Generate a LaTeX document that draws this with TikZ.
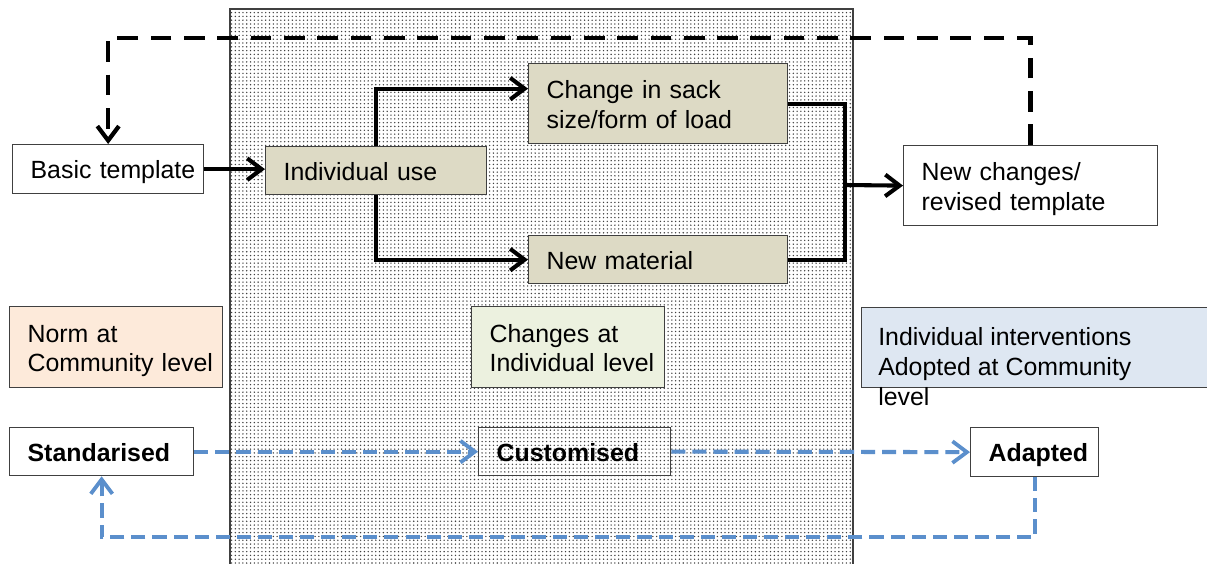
\documentclass[tikz,border=0pt]{standalone}
\usepackage{fontspec}
\setmainfont{Liberation Sans}
\usepackage{tikz}
\usetikzlibrary{arrows.meta,patterns.meta}
\usepackage{xcolor}
\definecolor{beige}{RGB}{221,218,197}
\definecolor{peach}{RGB}{253,234,218}
\definecolor{palegreen}{RGB}{236,241,223}
\definecolor{paleblue}{RGB}{222,231,242}
\definecolor{flowblue}{RGB}{91,143,204}

\begin{document}
\begin{tikzpicture}[font=\fontsize{17.7}{21.3}\selectfont,
  box/.style={draw=black!75,line width=0.9pt,anchor=north west,align=left,inner xsep=0.1cm,inner ysep=0pt,
    text height=19pt,text depth=5pt,execute at begin node={\leftskip=0.35cm}},
  twolines/.style={text depth=26.3pt},
  flow/.style={line width=2.9pt},
  tip/.style={-{Straight Barb[length=3.6mm,width=5.4mm,line width=2.9pt]}},
  loopback/.style={line width=3.2pt,dash pattern=on 14.7pt off 9pt,-{Straight Barb[length=3.6mm,width=5.4mm,line width=3pt]}},
  blueflow/.style={draw=flowblue,line width=2.9pt,dash pattern=on 10pt off 5pt,-{Straight Barb[length=3.6mm,width=5.4mm,line width=2.7pt]}}]
\useasboundingbox (0,0) rectangle (30.175,14.075);
\fill[white] (0,0) rectangle (30.175,14.075);
\draw[black!75,line width=0.9pt,pattern={Dots[distance=2.7pt,radius=0.55pt]},pattern color=black!75] (5.75,-0.2) rectangle (21.325,13.85);
\node[box] (basic) at (0.3,10.475) [text width=4.575cm,minimum height=1.225cm,fill=white] {Basic template};
\node[box] (indiv) at (6.625,10.425) [text width=5.325cm,minimum height=1.2cm,fill=beige] {Individual use};
\node[box,twolines] (sack) at (13.2,12.5) [text width=6.275cm,minimum height=2cm,fill=beige] {Change in sack\\size/form of load};
\node[box] (newmat) at (13.2,8.2) [text width=6.275cm,minimum height=1.2cm,fill=beige] {New material};
\node[box,twolines] (newchg) at (22.575,10.45) [text width=6.15cm,minimum height=2cm,fill=white] {New changes/\\revised template};
\node[box,twolines] (norm) at (0.225,6.425) [text width=5.125cm,minimum height=2.025cm,fill=peach] {Norm at\\Community level};
\node[box,twolines] (chind) at (11.775,6.425) [text width=4.625cm,minimum height=2.025cm,fill=palegreen] {Changes at\\Individual level};
\node[box] (interv) at (21.525,6.4) [minimum width=9cm,minimum height=2cm,fill=paleblue] {};
\node[anchor=north west,align=left,inner sep=0pt] (intervtext) at ([xshift=0.425cm,yshift=-0.5cm]interv.north west) {Individual interventions\\Adopted at Community\\level};
\node[box] (std) at (0.225,3.4) [text width=4.4cm,minimum height=1.2cm,fill=white,font=\fontsize{17.7}{21.3}\selectfont\bfseries] {Standarised};
\node[box] (cust) at (11.95,3.4) [text width=4.6cm,minimum height=1.2cm,font=\fontsize{17.7}{21.3}\selectfont\bfseries] {Customised};
\node[box] (adapt) at (24.25,3.4) [text width=3cm,minimum height=1.225cm,fill=white,font=\fontsize{17.7}{21.3}\selectfont\bfseries] {Adapted};
\coordinate (top) at (0,13.125);
\coordinate (merge) at (21.125,9.45);
\coordinate (bot) at (0,0.65);
\draw[flow,tip] (basic.east) -- (basic.east -| indiv.west);
\draw[flow,tip] (indiv.north) |- ([yshift=0.375cm]sack.west);
\draw[flow,tip] (indiv.south) |- (newmat.west);
\draw[flow] (sack.east) -| (merge) |- (newmat.east);
\draw[flow,tip] (merge) -- (newchg.west);
\draw[loopback] (newchg.north) -- (newchg.north |- top) -| (basic.north);
\draw[blueflow] (std.east) -- (cust.west);
\draw[blueflow] (cust.east) -- (adapt.west);
\draw[blueflow] (adapt.south) -- (adapt.south |- bot) -| (std.south);
\end{tikzpicture}
\end{document}
